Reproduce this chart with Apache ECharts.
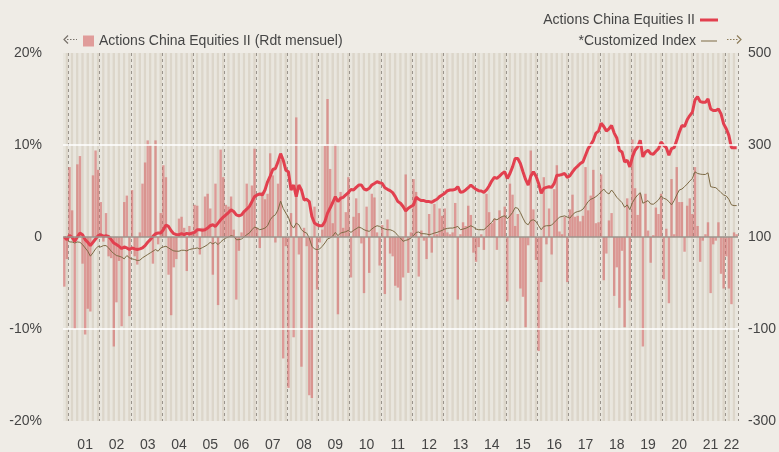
<!DOCTYPE html>
<html>
<head>
<meta charset="utf-8">
<script src="https://cdn.jsdelivr.net/npm/echarts@6/dist/echarts.min.js"></script>
<style>
  html, body { margin: 0; padding: 0; background: #efece6; }
  #chart { width: 779px; height: 452px; }
</style>
</head>
<body>
<div id="chart"></div>
<script>
  // monthly categories, Nov 2000 .. May 2022
  const months = [];
  for (let y = 2000, m = 11; y < 2022 || (y === 2022 && m <= 5); m++) {
    if (m > 12) { m = 1; y++; }
    if (y === 2022 && m > 5) break;
    months.push(y + '-' + (m < 10 ? '0' + m : m));
  }

  // monthly return of the fund, %
  const monthlyReturn = [
    -5.4, -2.4, 7.6, 2.9, -10.0, 7.9, 8.8, -2.9, -10.6, -7.8, -8.1, 6.7,
    9.4, 7.3, 3.8, -0.5, 2.6, -2.1, -2.3, -11.9, -7.1, -2.6, -9.7, 3.8,
    4.5, -8.6, 5.1, -2.1, -3.0, 0.5, 5.8, 8.1, 10.5, 10.0, -2.9, 10.5,
    -0.8, 2.6, 7.8, 6.5, -4.1, -8.5, -3.3, -2.4, 2.0, 2.2, 1.0, -3.7,
    1.2, 0.5, 3.5, 3.4, -1.9, 1.0, 4.4, 4.7, 3.1, -4.1, 5.8, -7.4,
    9.5, 6.5, 3.5, 3.3, 4.4, 0.8, -6.8, -1.5, 0.5, 2.9, 5.8, 3.3,
    5.6, 9.6, 1.0, -1.2, 4.9, 4.1, 4.7, 9.1, 6.7, -0.6, 5.8, 8.4,
    -13.2, -1.0, -16.4, 2.6, -10.9, 13.0, -1.9, -14.1, 1.0, -1.0, -17.2, -17.5,
    3.3, -5.7, -0.6, 0.8, 9.9, 15.0, 7.4, 1.5, 10.1, -8.4, 4.9, 1.0,
    2.7, 6.5, -4.4, 2.2, 4.2, 2.6, -0.7, -6.1, 3.3, -3.9, 4.7, 4.3,
    0.5, -3.1, 1.3, -6.2, 1.9, -1.8, -2.1, -5.3, -5.5, -6.9, -4.4, 6.8,
    -3.9, 0.5, 6.3, 4.9, -4.3, 0.7, -0.4, -2.4, 2.5, -1.7, 3.6, 0.3,
    3.1, 2.3, 3.1, 0.5, 0.3, 0.5, 3.7, -6.8, 0.3, 1.6, 1.2, 3.4,
    2.4, -1.7, -2.7, -1.1, 0.3, -1.4, 4.7, 2.7, 1.5, 2.0, -1.4, 2.9,
    2.2, 3.3, -7.0, 5.8, 4.6, 1.2, 2.5, -5.6, -6.5, -9.8, -0.9, 9.4,
    3.0, -2.5, -12.4, -4.9, 6.5, -0.8, 3.1, -1.9, 5.2, 7.8, 0.6, 0.3,
    2.2, -4.9, 3.0, 4.6, 2.2, 2.3, 1.7, 2.3, 7.6, 2.9, 4.5, 7.3,
    1.5, 1.6, 6.8, -4.7, -1.8, 1.8, 2.6, -6.4, -3.3, -7.7, -1.5, -9.8,
    4.2, -6.9, 10.6, 5.3, 2.4, 4.7, -11.9, 4.7, 0.7, -2.8, 0.2, 3.2,
    2.5, 4.7, -4.6, 0.9, -7.2, 6.3, 0.3, 7.6, 3.8, 3.8, -1.6, 3.4,
    4.2, 2.5, 7.6, 1.2, -2.7, -0.4, 0.3, 1.6, -6.1, -0.8, -0.4, 1.6,
    -4.0, -5.6, -2.1, -5.6, -7.3, 0.5, 0.3
  ];

  // fund, base 100
  const fundIndex = [
    100, 94.2, 103.6, 99.3, 90.6, 100, 108.6, 105, 94.2, 88.5, 81.3, 88.5,
    95.7, 102.9, 105, 101.4, 102.9, 101.4, 94.2, 87, 83.5, 79.9, 74.8, 78.4,
    76.3, 72.7, 76.3, 74.1, 72.7, 74.1, 76.3, 81.3, 88.5, 94.2, 101.4, 107.2,
    108.6, 108.6, 115.8, 125.9, 123, 113.7, 107.2, 105, 105, 107.2, 105, 107.9,
    106.5, 108.6, 110, 115.8, 115.8, 114.4, 115.8, 119.4, 124.5, 126.6, 123, 130.2,
    137.4, 143.2, 148.2, 153.2, 159, 155.4, 148.2, 146, 148.2, 155.4, 160.4, 166.2,
    177, 187.8, 191.4, 193.5, 191.4, 202.2, 220, 232.4, 246.8, 248.9, 263.3, 281.3,
    266.9, 245.3, 241.7, 202.2, 213, 187.8, 213, 202.2, 180.6, 182, 177, 144.6,
    130.2, 126.6, 124.5, 124.5, 133.8, 151.8, 163, 175, 187.8, 177, 184.2, 186.3,
    191.4, 196.4, 203.6, 202.2, 207.9, 213, 213, 204.3, 202.2, 205.8, 213, 216.5,
    220.1, 218, 216.5, 207.2, 203.6, 200.7, 196.4, 187.8, 177, 173.4, 166.2, 156.8,
    162.6, 166.2, 169.8, 186.3, 182, 179.1, 179.1, 177, 177, 175.5, 179.1, 182,
    187.8, 191.4, 195, 200.7, 202.2, 202.2, 203.6, 209.4, 197.1, 198.5, 202.2, 207.2,
    213, 207.9, 203.6, 200.7, 200, 197.1, 202.2, 210.8, 221.6, 229.5, 227.3, 232.4,
    238.1, 241.7, 227.3, 238.1, 252.5, 270.5, 270.5, 259.7, 241.7, 225.2, 213, 232.4,
    241.7, 232.4, 216.5, 195, 205.8, 207.9, 209.4, 207.9, 216.5, 234.5, 234.5, 236,
    238.1, 229.5, 233.1, 241.7, 248.9, 254, 259.7, 263.3, 277.7, 292.1, 300.7, 310.1,
    325.9, 330.2, 347.5, 340.3, 330.2, 335.3, 342.4, 325.9, 315.1, 288.5, 284.9, 263.3,
    266.9, 252.5, 274.1, 288.5, 295.7, 310.1, 274.1, 284.9, 288.5, 281.3, 279.9, 286.3,
    292.1, 306.5, 299.3, 294.2, 277.7, 292.1, 294.2, 310.1, 328.1, 342.4, 340.3, 354.7,
    364, 371.2, 397.8, 405, 394.2, 392.8, 392.8, 400, 378.4, 374.8, 374.8, 378.4,
    367.6, 346, 335.3, 320.9, 294.2, 294.2, 294.2
  ];

  // customized index, base 100
  const benchIndex = [
    100, 97, 89.2, 89.2, 87, 89.2, 88.5, 83.5, 76.3, 69.1, 58.3, 65.5,
    74.1, 79.9, 78.4, 81.3, 81.3, 76.3, 69.1, 64, 59.7, 58.3, 56.1, 52.5,
    59.7, 54.7, 52.5, 51.1, 48.9, 49.6, 54.7, 58.3, 61.9, 65.5, 69.1, 72.7,
    69.1, 76.3, 78.4, 79.9, 76.3, 72.7, 69.8, 69.1, 69.1, 71.2, 71.2, 69.8,
    72.7, 74.1, 74.8, 76.3, 74.1, 77, 79.9, 83.5, 88.5, 84.9, 88.5, 83.5,
    89.2, 94.2, 97.8, 100, 102.9, 101.4, 94.2, 94.2, 95.7, 100, 105, 108.6,
    115.8, 121.6, 119.4, 115.8, 117.3, 119.4, 124.5, 137.4, 144.6, 148.2, 159, 178,
    162, 152, 143, 126.6, 119.4, 130.2, 126.6, 115.8, 110.8, 108.6, 97.8, 79.9,
    74.1, 72.7, 74.1, 79.9, 87, 95.7, 98, 102, 110, 102.9, 108.6, 110,
    111.5, 114.4, 110, 114.4, 118, 121.6, 119.4, 115.8, 113.7, 112.2, 117.3, 121.6,
    124.5, 123, 119.4, 117.3, 115.8, 115.8, 113.7, 110, 102.9, 97.8, 90.6, 92.8,
    94.2, 97.8, 102.9, 110, 110.8, 107.2, 107.2, 106.5, 105, 106.5, 108.6, 110,
    112.2, 114.4, 117.3, 118.7, 119.4, 119.4, 120.9, 123, 115.8, 117.3, 118.7, 121.6,
    124.5, 121.6, 117.3, 115.8, 115.8, 115.8, 120.9, 126.6, 131.7, 139.6, 137.4, 141,
    144.6, 146, 139.6, 146, 153.2, 164, 162.6, 153.2, 141, 130.2, 126.6, 136,
    137.4, 133.8, 124.5, 115.8, 123, 124.5, 124.5, 125.9, 131.7, 137.4, 143.2, 144.6,
    146, 143.2, 141, 148.2, 153.2, 155.4, 156.8, 160.4, 168.3, 177, 182, 184.2,
    187.8, 192.5, 198.6, 204.3, 197.1, 193.5, 202.2, 195, 186.3, 180.6, 174.8, 164.7,
    169.8, 159.6, 174.8, 184.2, 191.4, 196.4, 173.4, 176.3, 179.1, 171.9, 171.2, 175.5,
    180.6, 189.2, 184.2, 182, 177, 169.8, 179.1, 191.4, 202.2, 204.3, 209.4, 215.1,
    221.6, 227.3, 241.7, 238.1, 236.7, 236, 236, 239.6, 209.4, 208, 207.2, 202.2,
    196.4, 191.4, 189.2, 182, 169.8, 168.3, 168.3
  ];

  const leftTicks = [-20, -10, 0, 10, 20];
  const rightTicks = [-300, -100, 100, 300, 500];

  const barName = 'Actions China Equities II (Rdt mensuel)';
  const fundName = 'Actions China Equities II';
  const benchName = '*Customized Index';

  const font = '"Liberation Sans", Arial, sans-serif';
  const textColor = '#454545';

  // small dotted arrows next to the legends
  function arrow(x0, x1, y, dir, color) {
    const tip = dir < 0 ? x0 : x1;
    return [
      {
        type: 'line', silent: true,
        shape: { x1: x0 + (dir < 0 ? 3 : 0), y1: y, x2: x1 - (dir > 0 ? 3 : 0), y2: y },
        style: { stroke: color, lineWidth: 1.2, lineDash: [1.5, 1.5] }
      },
      {
        type: 'polyline', silent: true,
        shape: { points: [[tip - dir * 4, y - 4], [tip, y], [tip - dir * 4, y + 4]] },
        style: { stroke: color, lineWidth: 1.2, fill: null }
      }
    ];
  }

  const myChart = echarts.init(document.getElementById('chart'));
  const option = {
    animation: false,
    backgroundColor: '#efece6',
    textStyle: { fontFamily: font },
    grid: { left: 63, right: 36, top: 53, bottom: 28, containLabel: false },
    legend: [
      {
        data: [barName], left: 78, top: 29, icon: 'rect',
        itemWidth: 11, itemHeight: 11, selectedMode: false,
        textStyle: { color: textColor, fontSize: 14, fontFamily: font }
      },
      {
        data: [fundName], right: 56, top: 8, align: 'right', icon: 'rect',
        itemWidth: 18, itemHeight: 3, selectedMode: false,
        textStyle: { color: textColor, fontSize: 14, fontFamily: font }
      },
      {
        data: [benchName], right: 57, top: 29, align: 'right', icon: 'rect',
        itemWidth: 16, itemHeight: 1, selectedMode: false,
        textStyle: { color: textColor, fontSize: 14, fontFamily: font }
      }
    ],
    graphic: arrow(64, 77, 39.5, -1, '#77716a').concat(arrow(727, 741, 39.5, 1, '#8c7b58')),
    xAxis: {
      type: 'category',
      data: months,
      boundaryGap: true,
      axisLine: { show: false },
      axisTick: { show: false },
      axisLabel: {
        interval: (i, v) => v.endsWith('-07') || v === '2022-03',
        formatter: v => v.slice(2, 4),
        color: textColor, fontSize: 14, margin: 17, fontFamily: font
      },
      splitArea: {
        show: true, interval: 0,
        areaStyle: { color: ['#e9e6de', '#dcd6ca'] }
      },
      splitLine: {
        show: true,
        interval: (i, v) => v.endsWith('-01'),
        lineStyle: { color: '#9a948c', type: [3, 3], width: 1 }
      }
    },
    yAxis: [
      {
        type: 'value', min: leftTicks[0], max: leftTicks[leftTicks.length - 1], interval: 10,
        position: 'left',
        axisLine: { show: false }, axisTick: { show: false },
        splitLine: { show: false },
        axisLabel: {
          formatter: v => (v === 0 ? '0' : v + '%'),
          color: textColor, fontSize: 14, margin: 21, fontFamily: font
        }
      },
      {
        type: 'value', min: rightTicks[0], max: rightTicks[rightTicks.length - 1], interval: 200,
        position: 'right',
        axisLine: { show: false }, axisTick: { show: false },
        splitLine: { show: false },
        axisLabel: { color: textColor, fontSize: 14, margin: 10, fontFamily: font }
      }
    ],
    series: [
      {
        name: barName,
        type: 'bar',
        yAxisIndex: 0,
        data: monthlyReturn,
        barCategoryGap: '8%',
        itemStyle: { color: 'rgba(214,104,104,0.6)' },
        markLine: {
          silent: true,
          symbol: ['none', 'none'],
          label: { show: false },
          data: [
            { yAxis: 10, lineStyle: { color: '#ffffff', width: 1.5, type: 'solid' } },
            { yAxis: -10, lineStyle: { color: '#ffffff', width: 1.5, type: 'solid' } },
            { yAxis: 0, lineStyle: { color: '#9c958d', width: 1.5, type: 'solid' } }
          ]
        }
      },
      {
        name: benchName,
        type: 'line',
        yAxisIndex: 1,
        data: benchIndex,
        symbol: 'none',
        lineStyle: { color: '#7d6a45', width: 1 },
        itemStyle: { color: '#7d6a45' }
      },
      {
        name: fundName,
        type: 'line',
        yAxisIndex: 1,
        data: fundIndex,
        symbol: 'none',
        lineStyle: { color: '#e2404f', width: 3 },
        itemStyle: { color: '#e2404f' }
      }
    ]
  };
  myChart.setOption(option);
</script>
</body>
</html>
